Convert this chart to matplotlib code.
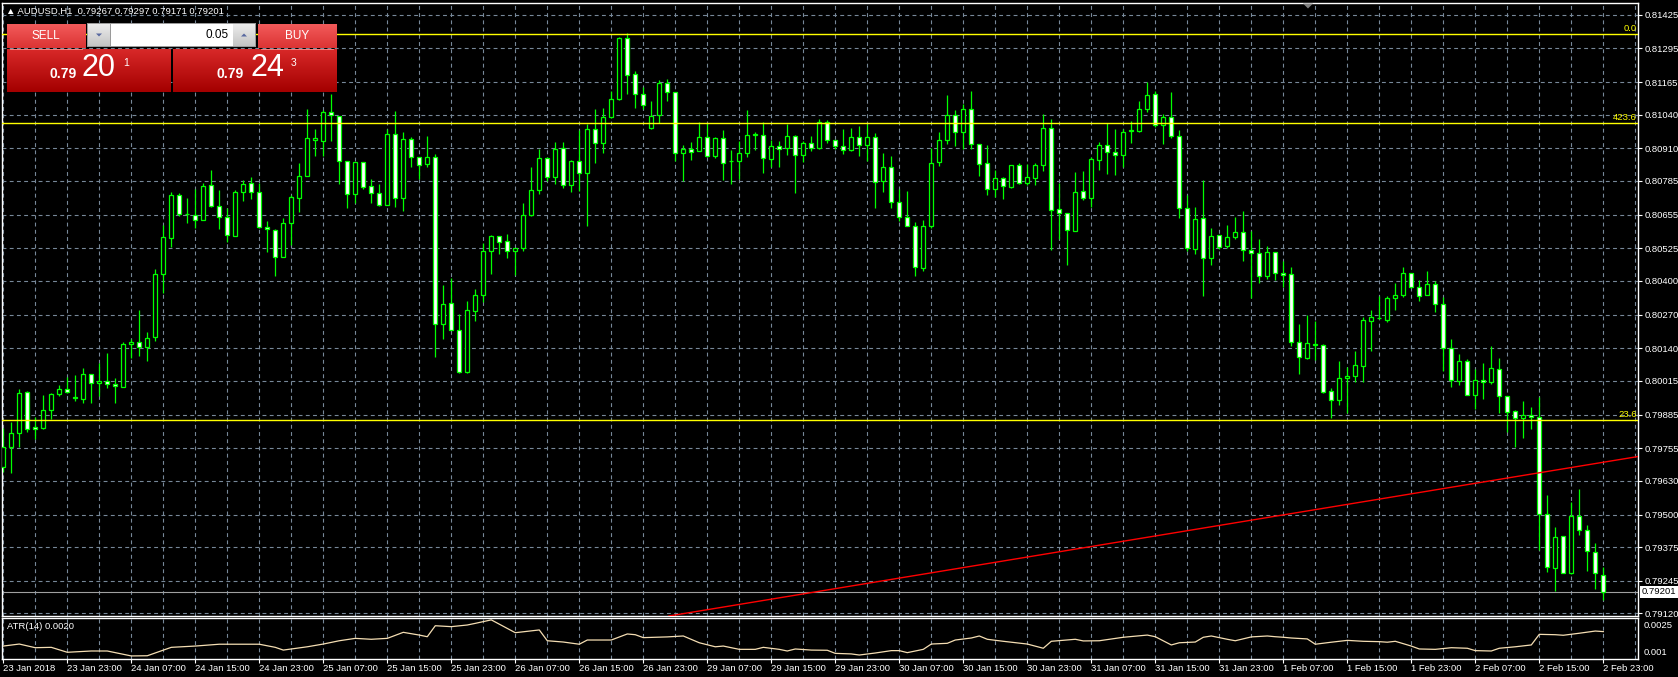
import numpy as np
import matplotlib
matplotlib.use("Agg")
import matplotlib.pyplot as plt
from matplotlib.patches import Rectangle, Polygon

plt.rcParams['font.family'] = ['Liberation Sans', 'DejaVu Sans']

W, H = 1678, 677

# AUDUSD H1, one bar per hour from 23 Jan 15:00 to 2 Feb 23:00 (201 bars)
opens = [
    0.79684, 0.79761, 0.79815, 0.79973, 0.79838, 0.79834, 0.79904, 0.79965, 0.79984, 0.79954,
    0.79946, 0.80042, 0.80007, 0.80015, 0.80004, 0.79992, 0.80158, 0.80165, 0.80146, 0.80185,
    0.80427, 0.80566, 0.80731, 0.80658, 0.80654, 0.80635, 0.80770, 0.80689, 0.80647, 0.80573,
    0.80743, 0.80777, 0.80743, 0.80608, 0.80597, 0.80493, 0.80623, 0.80720, 0.80804, 0.80943,
    0.80939, 0.81051, 0.81035, 0.80862, 0.80735, 0.80858, 0.80766, 0.80739, 0.80693, 0.80966,
    0.80720, 0.80947, 0.80878, 0.80851, 0.80878, 0.80235, 0.80315, 0.80212, 0.80050, 0.80285,
    0.80346, 0.80516, 0.80573, 0.80554, 0.80516, 0.80527, 0.80654, 0.80751, 0.80874, 0.80801,
    0.80912, 0.80770, 0.80862, 0.80816, 0.80985, 0.80931, 0.81032, 0.81101, 0.81336, 0.81197,
    0.81120, 0.80989, 0.81039, 0.81162, 0.81128, 0.80893, 0.80908, 0.80901, 0.80955, 0.80881,
    0.80951, 0.80862, 0.80862, 0.80893, 0.80962, 0.80962, 0.80870, 0.80920, 0.80912, 0.80958,
    0.80885, 0.80931, 0.80912, 0.81012, 0.80943, 0.80920, 0.80904, 0.80955, 0.80924, 0.80955,
    0.80785, 0.80839, 0.80704, 0.80647, 0.80612, 0.80450, 0.80612, 0.80858, 0.80943, 0.81039,
    0.80974, 0.81062, 0.80928, 0.80854, 0.80754, 0.80797, 0.80762, 0.80847, 0.80777, 0.80797,
    0.80847, 0.80989, 0.80677, 0.80662, 0.80593, 0.80747, 0.80720, 0.80866, 0.80924, 0.80897,
    0.80885, 0.80978, 0.80978, 0.81062, 0.81120, 0.81001, 0.81032, 0.80958, 0.80681, 0.80523,
    0.80643, 0.80489, 0.80577, 0.80535, 0.80570, 0.80589, 0.80520, 0.80508, 0.80419, 0.80512,
    0.80431, 0.80427, 0.80165, 0.80104, 0.80158, 0.80154, 0.79977, 0.79942, 0.80027, 0.80034,
    0.80073, 0.80246, 0.80258, 0.80250, 0.80335, 0.80346, 0.80431, 0.80377, 0.80346, 0.80389,
    0.80312, 0.80142, 0.80015, 0.80092, 0.79961, 0.80019, 0.80011, 0.80061, 0.79957, 0.79900,
    0.79873, 0.79884, 0.79877, 0.79503, 0.79295, 0.79418, 0.79276, 0.79495, 0.79442, 0.79357,
    0.79267]
highs = [
    0.79834, 0.79857, 0.79984, 0.79977, 0.79877, 0.79961, 0.79969, 0.80000, 0.80031, 0.80038,
    0.80065, 0.80042, 0.80084, 0.80123, 0.80027, 0.80165, 0.80177, 0.80289, 0.80204, 0.80446,
    0.80616, 0.80743, 0.80739, 0.80720, 0.80754, 0.80777, 0.80828, 0.80751, 0.80681, 0.80751,
    0.80789, 0.80801, 0.80777, 0.80631, 0.80600, 0.80643, 0.80731, 0.80854, 0.81062, 0.80985,
    0.81059, 0.81120, 0.81035, 0.80862, 0.80858, 0.80858, 0.80793, 0.80774, 0.80985, 0.81055,
    0.80974, 0.80955, 0.80878, 0.80958, 0.80889, 0.80385, 0.80412, 0.80273, 0.80323, 0.80369,
    0.80546, 0.80577, 0.80573, 0.80581, 0.80527, 0.80700, 0.80839, 0.80908, 0.80878, 0.80935,
    0.80935, 0.80866, 0.80982, 0.81005, 0.81062, 0.81066, 0.81132, 0.81340, 0.81355, 0.81209,
    0.81147, 0.81093, 0.81174, 0.81178, 0.81128, 0.80924, 0.80935, 0.81012, 0.81008, 0.80955,
    0.80982, 0.80904, 0.80939, 0.81059, 0.80974, 0.81012, 0.80943, 0.80939, 0.81005, 0.80962,
    0.80939, 0.80958, 0.81024, 0.81020, 0.80943, 0.80985, 0.80989, 0.80997, 0.81005, 0.80970,
    0.80893, 0.80881, 0.80754, 0.80747, 0.80627, 0.80635, 0.80912, 0.80974, 0.81116, 0.81059,
    0.81082, 0.81132, 0.80928, 0.80924, 0.80828, 0.80801, 0.80847, 0.80854, 0.80851, 0.80854,
    0.81043, 0.81024, 0.80777, 0.80662, 0.80820, 0.80824, 0.80878, 0.80935, 0.81008, 0.80985,
    0.80985, 0.81016, 0.81093, 0.81166, 0.81132, 0.81043, 0.81128, 0.80982, 0.80731, 0.80685,
    0.80789, 0.80604, 0.80577, 0.80616, 0.80647, 0.80670, 0.80593, 0.80562, 0.80535, 0.80512,
    0.80477, 0.80454, 0.80235, 0.80269, 0.80246, 0.80158, 0.79988, 0.80092, 0.80069, 0.80131,
    0.80262, 0.80289, 0.80342, 0.80342, 0.80392, 0.80454, 0.80431, 0.80404, 0.80439, 0.80400,
    0.80339, 0.80177, 0.80119, 0.80100, 0.80061, 0.80084, 0.80150, 0.80104, 0.79957, 0.79904,
    0.79938, 0.79915, 0.79954, 0.79576, 0.79453, 0.79418, 0.79549, 0.79599, 0.79461, 0.79391,
    0.79297]
lows = [
    0.79665, 0.79661, 0.79761, 0.79819, 0.79792, 0.79830, 0.79869, 0.79957, 0.79969, 0.79938,
    0.79930, 0.79930, 0.79957, 0.79988, 0.79930, 0.79992, 0.80104, 0.80111, 0.80092, 0.80169,
    0.80354, 0.80531, 0.80650, 0.80623, 0.80604, 0.80635, 0.80685, 0.80600, 0.80550, 0.80573,
    0.80708, 0.80716, 0.80604, 0.80512, 0.80419, 0.80493, 0.80539, 0.80666, 0.80804, 0.80881,
    0.80881, 0.80939, 0.80774, 0.80681, 0.80700, 0.80754, 0.80700, 0.80689, 0.80693, 0.80685,
    0.80670, 0.80839, 0.80793, 0.80839, 0.80108, 0.80177, 0.80212, 0.80046, 0.80046, 0.80246,
    0.80319, 0.80427, 0.80504, 0.80489, 0.80423, 0.80516, 0.80650, 0.80735, 0.80785, 0.80774,
    0.80758, 0.80743, 0.80747, 0.80612, 0.80854, 0.80893, 0.81028, 0.81097, 0.81120, 0.81066,
    0.81062, 0.80985, 0.81008, 0.81093, 0.80862, 0.80785, 0.80866, 0.80901, 0.80878, 0.80874,
    0.80789, 0.80774, 0.80793, 0.80878, 0.80904, 0.80816, 0.80839, 0.80839, 0.80885, 0.80739,
    0.80858, 0.80901, 0.80908, 0.80931, 0.80908, 0.80889, 0.80901, 0.80881, 0.80862, 0.80681,
    0.80743, 0.80681, 0.80631, 0.80612, 0.80419, 0.80439, 0.80604, 0.80843, 0.80928, 0.80920,
    0.80908, 0.80908, 0.80804, 0.80731, 0.80724, 0.80716, 0.80758, 0.80774, 0.80770, 0.80770,
    0.80824, 0.80520, 0.80562, 0.80462, 0.80593, 0.80712, 0.80685, 0.80828, 0.80812, 0.80808,
    0.80839, 0.80931, 0.80974, 0.81051, 0.80993, 0.80928, 0.80951, 0.80643, 0.80516, 0.80504,
    0.80342, 0.80462, 0.80523, 0.80527, 0.80562, 0.80477, 0.80335, 0.80392, 0.80408, 0.80404,
    0.80377, 0.80150, 0.80042, 0.80100, 0.80096, 0.79969, 0.79873, 0.79923, 0.79892, 0.80011,
    0.80011, 0.80131, 0.80254, 0.80242, 0.80289, 0.80339, 0.80373, 0.80323, 0.80346, 0.80281,
    0.80054, 0.79992, 0.80000, 0.79961, 0.79907, 0.79946, 0.80004, 0.79892, 0.79819, 0.79761,
    0.79796, 0.79830, 0.79365, 0.79280, 0.79207, 0.79276, 0.79272, 0.79422, 0.79284, 0.79214,
    0.79171]
closes = [
    0.79761, 0.79815, 0.79969, 0.79830, 0.79830, 0.79904, 0.79965, 0.79984, 0.79973, 0.79950,
    0.80042, 0.80007, 0.80015, 0.80004, 0.79996, 0.80158, 0.80165, 0.80146, 0.80181, 0.80427,
    0.80570, 0.80731, 0.80658, 0.80656, 0.80635, 0.80766, 0.80689, 0.80647, 0.80577, 0.80743,
    0.80774, 0.80743, 0.80608, 0.80600, 0.80493, 0.80623, 0.80724, 0.80804, 0.80951, 0.80951,
    0.81051, 0.81039, 0.80862, 0.80735, 0.80858, 0.80762, 0.80739, 0.80693, 0.80966, 0.80720,
    0.80947, 0.80878, 0.80847, 0.80878, 0.80235, 0.80312, 0.80212, 0.80050, 0.80289, 0.80346,
    0.80516, 0.80573, 0.80550, 0.80516, 0.80527, 0.80654, 0.80751, 0.80874, 0.80801, 0.80908,
    0.80770, 0.80862, 0.80816, 0.80985, 0.80931, 0.81032, 0.81101, 0.81336, 0.81193, 0.81120,
    0.81078, 0.81035, 0.81162, 0.81128, 0.80893, 0.80908, 0.80897, 0.80955, 0.80881, 0.80951,
    0.80854, 0.80860, 0.80893, 0.80962, 0.80966, 0.80874, 0.80920, 0.80908, 0.80958, 0.80885,
    0.80931, 0.80912, 0.81012, 0.80943, 0.80920, 0.80904, 0.80955, 0.80924, 0.80955, 0.80781,
    0.80839, 0.80704, 0.80647, 0.80612, 0.80454, 0.80612, 0.80854, 0.80943, 0.81039, 0.80974,
    0.81062, 0.80928, 0.80851, 0.80754, 0.80797, 0.80766, 0.80847, 0.80777, 0.80801, 0.80847,
    0.80989, 0.80674, 0.80662, 0.80597, 0.80743, 0.80720, 0.80870, 0.80924, 0.80897, 0.80885,
    0.80974, 0.80982, 0.81062, 0.81116, 0.81001, 0.81032, 0.80958, 0.80681, 0.80527, 0.80639,
    0.80489, 0.80573, 0.80531, 0.80570, 0.80589, 0.80520, 0.80508, 0.80419, 0.80512, 0.80431,
    0.80423, 0.80165, 0.80108, 0.80161, 0.80154, 0.79973, 0.79942, 0.80027, 0.80034, 0.80077,
    0.80250, 0.80262, 0.80258, 0.80335, 0.80346, 0.80431, 0.80377, 0.80342, 0.80389, 0.80312,
    0.80142, 0.80019, 0.80092, 0.79961, 0.80019, 0.80011, 0.80065, 0.79957, 0.79896, 0.79873,
    0.79884, 0.79877, 0.79503, 0.79299, 0.79415, 0.79276, 0.79495, 0.79442, 0.79361, 0.79276,
    0.79201]

# ATR(14) (bar index, value)
atr_bar = [0, 2, 4, 6, 8, 11, 13, 16, 18, 21, 24, 27, 32, 34, 35, 38, 40, 42, 44, 46,
           48, 50, 52, 53, 54, 56, 58, 59, 61, 64, 67, 68, 70, 72, 73, 76, 78, 79, 80, 83,
           85, 87, 89, 90, 92, 94, 95, 97, 98, 99, 101, 103, 104, 106, 107, 109, 111, 112, 113, 115,
           116, 118, 119, 121, 122, 123, 125, 128, 130, 131, 134, 135, 137, 140, 143, 144, 146, 147, 149, 150,
           151, 153, 154, 156, 158, 159, 160, 161, 163, 164, 166, 168, 170, 172, 173, 174, 176, 177, 179, 181,
           183, 184, 186, 187, 189, 191, 192, 194, 195, 197, 199, 200]
atr_val = [0.00131, 0.00142, 0.00122, 0.00124, 0.00097, 0.00104, 0.00104, 0.00077, 0.00078, 0.00124,
           0.00131, 0.00141, 0.00141, 0.00124, 0.00109, 0.00127, 0.00142, 0.00160, 0.00173, 0.00168,
           0.00173, 0.00206, 0.00191, 0.00182, 0.00242, 0.00237, 0.00246, 0.00255, 0.00274, 0.00204,
           0.00219, 0.00160, 0.00153, 0.00141, 0.00164, 0.00164, 0.00197, 0.00193, 0.00177, 0.00181,
           0.00186, 0.00149, 0.00127, 0.00131, 0.00113, 0.00113, 0.00124, 0.00113, 0.00104, 0.00115,
           0.00109, 0.00108, 0.00091, 0.00088, 0.00082, 0.00093, 0.00106, 0.00106, 0.00095, 0.00113,
           0.00142, 0.00146, 0.00164, 0.00175, 0.00186, 0.00168, 0.00157, 0.00142, 0.00119, 0.00157,
           0.00168, 0.00159, 0.00160, 0.00179, 0.00191, 0.00182, 0.00137, 0.00149, 0.00153, 0.00179,
           0.00186, 0.00168, 0.00160, 0.00181, 0.00186, 0.00182, 0.00179, 0.00175, 0.00170, 0.00141,
           0.00152, 0.00162, 0.00157, 0.00155, 0.00152, 0.00157, 0.00131, 0.00115, 0.00113, 0.00122,
           0.00119, 0.00106, 0.00104, 0.00119, 0.00127, 0.00137, 0.00195, 0.00193, 0.00190, 0.00201,
           0.00213, 0.00210]

time_labels = ["23 Jan 2018", "23 Jan 23:00", "24 Jan 07:00", "24 Jan 15:00", "24 Jan 23:00",
               "25 Jan 07:00", "25 Jan 15:00", "25 Jan 23:00", "26 Jan 07:00", "26 Jan 15:00",
               "26 Jan 23:00", "29 Jan 07:00", "29 Jan 15:00", "29 Jan 23:00", "30 Jan 07:00",
               "30 Jan 15:00", "30 Jan 23:00", "31 Jan 07:00", "31 Jan 15:00", "31 Jan 23:00",
               "1 Feb 07:00", "1 Feb 15:00", "1 Feb 23:00", "2 Feb 07:00", "2 Feb 15:00",
               "2 Feb 23:00"]
price_levels = [0.81425, 0.81295, 0.81165, 0.81040, 0.80910, 0.80785, 0.80655, 0.80525,
                0.80400, 0.80270, 0.80140, 0.80015, 0.79885, 0.79755, 0.79630, 0.79500,
                0.79375, 0.79245, 0.79120]

fib_levels = [0.81350, 0.81007, 0.79865]
fib_names = ["0.0", "423.6", "23.6"]
trend_pts = [(84, 0.79114), (200, 0.79702)]
last_price = 0.79201

GREEN = '#00ff00'
GRID = '#778899'
FS = 6.8

fig = plt.figure(figsize=(W / 100, H / 100), dpi=100, facecolor='black')
ax = fig.add_axes([2 / W, (H - 616) / H, 1635.7 / W, 612.7 / H])
atr_ax = fig.add_axes([2 / W, (H - 658.5) / H, 1635.7 / W, 41 / H], sharex=ax)

o = np.array(opens); h = np.array(highs); l = np.array(lows); c = np.array(closes)
x = np.arange(len(o))

for a in (ax, atr_ax):
    a.set_facecolor('black')
    for s in a.spines.values():
        s.set_color('white')
        s.set_linewidth(1)
    for gx in range(0, 205, 4):
        a.axvline(gx, color=GRID, lw=0.8, ls=(0, (3.5, 3)), zorder=0)

for lev in price_levels:
    ax.axhline(lev, color=GRID, lw=0.8, ls=(0, (3.5, 3)), zorder=0)

# candles: hollow (black) = up, white = down
fills = np.where(c > o, 'black', 'white')
ax.vlines(x, l, h, color=GREEN, lw=0.9, zorder=2)
ax.bar(x, np.abs(c - o), bottom=np.minimum(o, c), width=0.5, color=fills,
       edgecolor=GREEN, linewidth=0.9, zorder=3)

# fibo levels, bid line, trendline
for lev, name in zip(fib_levels, fib_names):
    ax.axhline(lev, color='#ffff00', lw=1, zorder=4)
    ax.text(204.2, lev + 0.00004, name, color='#ffff00', fontsize=FS,
            ha='right', va='bottom', zorder=5)
ax.axhline(last_price, color='#a0a0a0', lw=0.8, zorder=1)
ax.axline(trend_pts[0], trend_pts[1], color='#ff0000', lw=1, zorder=4)

ax.set_xlim(-0.16, 204.3)
ax.set_ylim(0.79110, 0.81469)
ax.yaxis.tick_right()
ax.set_yticks(price_levels)
ax.set_yticklabels(["%.5f" % v for v in price_levels])
ax.tick_params(axis='y', colors='white', length=3, width=0.8, labelsize=FS, pad=2)
ax.tick_params(axis='x', bottom=False, labelbottom=False)

atr_ax.plot(atr_bar, atr_val, color='#f5deb3', lw=0.9)
atr_ax.set_ylim(0.00063, 0.00287)
atr_ax.yaxis.tick_right()
atr_ax.set_yticks([0.001, 0.0025])
atr_ax.set_yticklabels(["0.001", "0.0025"])
atr_ax.tick_params(axis='y', colors='white', length=0, labelsize=FS, pad=4)
atr_ax.set_xticks(range(0, 201, 8))
atr_ax.set_xticklabels(time_labels)
atr_ax.tick_params(axis='x', colors='white', length=3, width=0.8, labelsize=FS, pad=1)
for t in atr_ax.get_xticklabels():
    t.set_horizontalalignment('left')

# overlay in pixel coordinates for the one-click trading panel and labels
ov = fig.add_axes([0, 0, 1, 1])
ov.axis('off')


def grad(x0, x1, y0, y1, top, bottom):
    t = np.linspace(0, 1, 40)[:, None, None]
    c0 = np.array(matplotlib.colors.to_rgb(top))
    c1 = np.array(matplotlib.colors.to_rgb(bottom))
    img = c0 * (1 - t) + c1 * t
    ov.imshow(img, extent=(x0, x1, y1, y0), aspect='auto', interpolation='bilinear', zorder=2)


grad(6.7, 85, 24, 48, '#f25a5a', '#dc3434')      # SELL button
grad(258, 337, 24, 48, '#f25a5a', '#dc3434')     # BUY button
grad(6.7, 170.7, 49, 92, '#d82828', '#a40000')   # sell price
grad(173, 337, 49, 92, '#d82828', '#a40000')     # buy price
ov.add_patch(Rectangle((87, 23), 169, 24, facecolor='#9a9a9a', edgecolor='none', zorder=2))
grad(88, 110, 24, 46, '#ececec', '#c4c4c4')
grad(233, 255, 24, 46, '#ececec', '#c4c4c4')
ov.add_patch(Rectangle((110.5, 24), 122, 22, facecolor='white', edgecolor='none', zorder=3))
ov.add_patch(Polygon([(96, 33.5), (102, 33.5), (99, 36.5)], facecolor='#5868a0', zorder=4))
ov.add_patch(Polygon([(241, 36.5), (247, 36.5), (244, 33.5)], facecolor='#5868a0', zorder=4))
ov.plot([10, 82], [48.6, 48.6], color='#ff9090', lw=0.6, zorder=4)
ov.plot([261, 333], [48.6, 48.6], color='#ff9090', lw=0.6, zorder=4)

ov.text(45.7, 36, "SELL", color='white', fontsize=8.5, ha='center', va='center', zorder=5)
ov.text(297, 36, "BUY", color='white', fontsize=8.5, ha='center', va='center', zorder=5)
ov.text(229, 35.5, "0.05", color='black', fontsize=8.5, ha='right', va='center', zorder=5)
ov.text(63.5, 74.5, "0.79", color='white', fontsize=10, fontweight='bold', ha='center', va='center', zorder=5)
ov.text(98.5, 67.5, "20", color='white', fontsize=22, ha='center', va='center', zorder=5)
ov.text(126.5, 63, "1", color='white', fontsize=7.5, ha='center', va='center', zorder=5)
ov.text(229.7, 74.5, "0.79", color='white', fontsize=10, fontweight='bold', ha='center', va='center', zorder=5)
ov.text(267.5, 67.5, "24", color='white', fontsize=22, ha='center', va='center', zorder=5)
ov.text(294, 63, "3", color='white', fontsize=7.5, ha='center', va='center', zorder=5)

ov.text(6.5, 11.5, "\u25b2 AUDUSD,H1  0.79267 0.79297 0.79171 0.79201", color='white',
        fontsize=FS, ha='left', va='center', zorder=5)
ov.text(7, 626.5, "ATR(14) 0.0020", color='white', fontsize=FS, ha='left', va='center', zorder=5)

# bid price tag on the price scale, chart shift marker at the top
ov.add_patch(Rectangle((1640, 586), 38, 11.5, facecolor='white', edgecolor='none', zorder=5))
ov.text(1642, 591.8, "%.5f" % last_price, color='black', fontsize=FS, ha='left', va='center', zorder=6)
ov.add_patch(Polygon([(1303, 3.5), (1313, 3.5), (1308, 8.5)], facecolor='#808080', zorder=5))

ov.set_xlim(0, W)
ov.set_ylim(H, 0)

fig.savefig("out.png", dpi=100, facecolor='black')
